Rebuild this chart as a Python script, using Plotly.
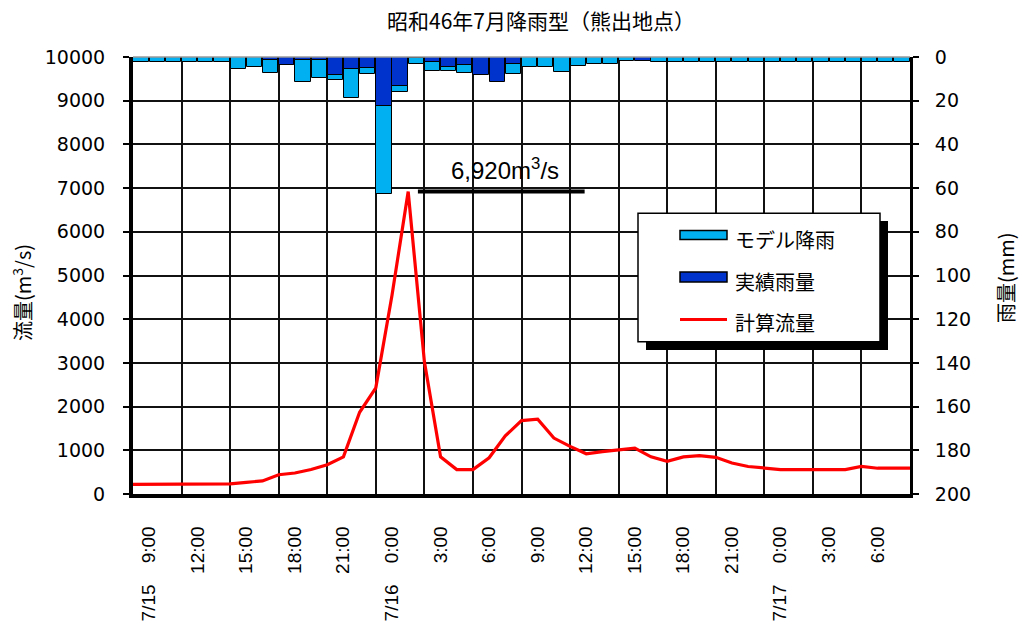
import plotly.graph_objects as go

# ---------------- data ----------------
title_text = "昭和46年7月降雨型（熊出地点）"
series_names = ["モデル降雨", "実績雨量", "計算流量"]

# hourly steps from 7/15 9:00 (step 0) to 7/17 9:00 (step 48)
tick_steps = [0, 3, 6, 9, 12, 15, 18, 21, 24, 27, 30, 33, 36, 39, 42, 45]
tick_labels = ["7/15\u00a0\u00a0\u00a0\u00a09:00", "12:00", "15:00", "18:00", "21:00",
               "7/16\u00a0\u00a0\u00a0\u00a00:00", "3:00", "6:00", "9:00", "12:00", "15:00",
               "18:00", "21:00", "7/17\u00a0\u00a0\u00a0\u00a00:00", "3:00", "6:00"]

# computed discharge (m3/s), hourly points 0..48
flow = [220, 220, 220, 220, 220, 220, 230, 265, 300, 440,
        480, 560, 670, 850, 1870, 2430, 4550, 6920, 3030, 850,
        560, 560, 830, 1330, 1680, 1710, 1280, 1090, 920, 970,
        1010, 1050, 850, 750, 850, 880, 840, 710, 630, 590,
        560, 560, 560, 560, 560, 630, 590, 590, 590]

# hourly rainfall (mm) for the 48 hourly intervals
model_rain = [2.2, 2.2, 2.2, 2.2, 2.2, 2.2, 5.5, 4.4, 7.3, 3.5,
              11.6, 9.8, 10.5, 18.9, 8.0, 62.7, 15.9, 3.2, 6.4, 6.3,
              7.2, 8.0, 11.0, 8.0, 4.4, 4.4, 6.7, 4.3, 3.1, 3.1,
              1.8, 1.5, 2.2, 2.2, 2.2, 2.2, 2.2, 2.2, 2.2, 2.2,
              2.2, 2.2, 2.2, 2.2, 2.2, 2.2, 2.2, 2.2]
actual_rain = [0, 0, 0, 0, 0, 0, 0, 0, 1.4, 3.7,
               1.5, 1.4, 8.2, 5.5, 4.9, 22.3, 13.1, 0.5, 2.1, 4.4,
               3.7, 8.2, 11.3, 3.0, 0, 0, 0, 0, 0, 0,
               0, 1.8, 0, 0, 0, 0, 0, 0, 0, 0,
               0, 0, 0, 0, 0, 0, 0, 0]

# ---------------- styles ----------------
LIGHT = "#00B0F0"
DARK = "#0033CC"
RED = "#FF0000"
CJK = "Noto Sans CJK JP"
NUM = "DejaVu Sans"
LAT = "Liberation Sans"

W, H = 1022, 630
L, R, T, B = 133, 112, 57, 136
PW, PH = W - L - R, H - T - B


def px(x):
    return (x - L) / PW


def py(y):
    return (H - B - y) / PH


n_hours = len(model_rain)
bar_x = [i + 0.5 for i in range(n_hours)]
flow_x = list(range(len(flow)))

fig = go.Figure()
fig.add_trace(go.Bar(x=bar_x, y=model_rain, name=series_names[0], yaxis="y2",
                     marker=dict(color=LIGHT, line=dict(color="black", width=1)),
                     width=0.94, showlegend=False))
fig.add_trace(go.Bar(x=bar_x, y=actual_rain, name=series_names[1], yaxis="y2",
                     marker=dict(color=DARK, line=dict(color="black", width=1)),
                     width=0.94, showlegend=False))
fig.add_trace(go.Scatter(x=flow_x, y=flow, name=series_names[2], mode="lines",
                         line=dict(color=RED, width=3.2), showlegend=False))

peak = max(flow)
peak_i = flow.index(peak)

shapes = [
    # top border of plot area
    dict(type="line", xref="paper", yref="paper", x0=0, x1=1, y0=1, y1=1,
         line=dict(color="#9a9a9a", width=1.5), layer="above"),
    # peak marker line
    dict(type="line", xref="x", yref="y", x0=peak_i + 0.6, x1=peak_i + 10.9,
         y0=peak, y1=peak, line=dict(color="black", width=4), layer="above"),
    # legend shadow and box
    dict(type="rect", xref="paper", yref="paper", x0=px(646), x1=px(888),
         y0=py(350), y1=py(221), fillcolor="black", line=dict(width=0), layer="above"),
    dict(type="rect", xref="paper", yref="paper", x0=px(638), x1=px(880),
         y0=py(341.7), y1=py(213.3), fillcolor="white",
         line=dict(color="black", width=1.5), layer="above"),
    # legend icons
    dict(type="rect", xref="paper", yref="paper", x0=px(680), x1=px(727),
         y0=py(239.5), y1=py(230.5), fillcolor=LIGHT,
         line=dict(color="black", width=1.5), layer="above"),
    dict(type="rect", xref="paper", yref="paper", x0=px(680), x1=px(727),
         y0=py(282), y1=py(272), fillcolor=DARK,
         line=dict(color="black", width=1.5), layer="above"),
    dict(type="line", xref="paper", yref="paper", x0=px(680), x1=px(727),
         y0=py(319.5), y1=py(319.5), line=dict(color=RED, width=3), layer="above"),
]

annotations = [
    dict(text=title_text, xref="paper", yref="paper", x=px(541), y=py(20),
         xanchor="center", yanchor="middle", showarrow=False,
         font=dict(family=CJK, size=21, color="black")),
    dict(text="流量(m<sup>3</sup>/s)", xref="paper", yref="paper", x=px(22), y=py(293),
         textangle=-90, xanchor="center", yanchor="middle", showarrow=False,
         font=dict(family=CJK, size=20, color="black")),
    dict(text="雨量(mm)", xref="paper", yref="paper", x=px(1005), y=py(278),
         textangle=-90, xanchor="center", yanchor="middle", showarrow=False,
         font=dict(family=CJK, size=20, color="black")),
    dict(text=f"{peak:,}m<sup>3</sup>/s", xref="x", yref="y", x=peak_i + 6.0,
         y=peak + 520, xanchor="center", yanchor="middle", showarrow=False,
         font=dict(family=LAT, size=24, color="black")),
]
for name, yc in zip(series_names, [239, 281, 322.5]):
    annotations.append(dict(text=name, xref="paper", yref="paper", x=px(733), y=py(yc),
                            xanchor="left", yanchor="middle", showarrow=False,
                            font=dict(family=CJK, size=20, color="black")))

fig.update_layout(
    width=W, height=H,
    margin=dict(l=L, r=R, t=T, b=B, autoexpand=False),
    paper_bgcolor="white", plot_bgcolor="white",
    barmode="overlay", bargap=0,
    showlegend=False,
    xaxis=dict(range=[0, n_hours], tickmode="array", tickvals=tick_steps, ticktext=tick_labels,
               tickangle=-90, ticks="", showgrid=True, gridcolor="#111111", gridwidth=1.6,
               showline=True, linecolor="black", linewidth=3.5, zeroline=False,
               ticklabelstandoff=21, ticklabelshift=16, automargin=False,
               tickfont=dict(family=LAT, size=19, color="black")),
    yaxis=dict(range=[0, 10000], dtick=1000, tickformat="d", ticks="outside", ticklen=6,
               tickwidth=2, tickcolor="black", showgrid=True, gridcolor="#111111", gridwidth=1.6,
               showline=True, linecolor="black", linewidth=4, zeroline=False,
               ticklabelstandoff=14, automargin=False,
               tickfont=dict(family=NUM, size=19, color="black")),
    yaxis2=dict(range=[200, 0], dtick=20, tickformat="d", overlaying="y", side="right",
                anchor="x", ticks="outside", ticklen=6, tickwidth=2, tickcolor="black",
                showgrid=False, showline=True, linecolor="black", linewidth=3, zeroline=False,
                ticklabelstandoff=12, automargin=False,
                tickfont=dict(family=NUM, size=19, color="black")),
    shapes=shapes,
    annotations=annotations,
)

fig.write_html("out.html", config={"displayModeBar": False},
               post_script="document.body.style.margin='0';document.body.style.padding='0';")
